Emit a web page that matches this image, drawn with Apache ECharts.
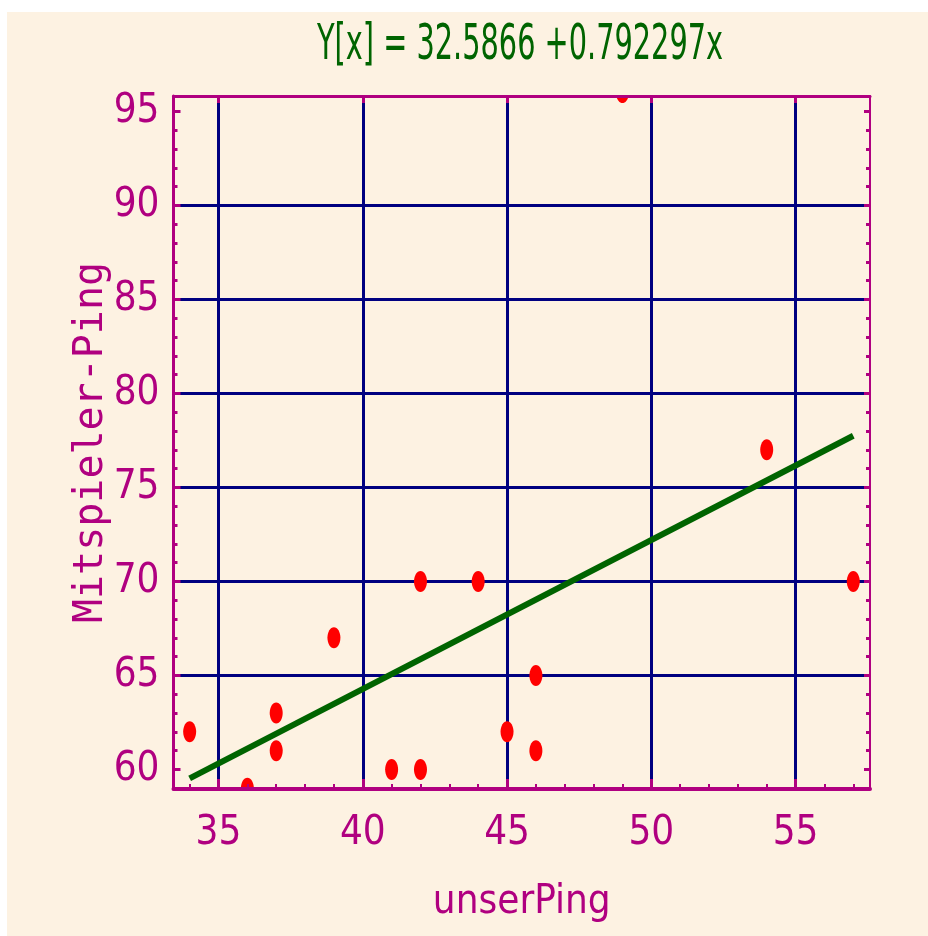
<!DOCTYPE html>
<html>
<head>
<meta charset="utf-8">
<script src="https://cdn.jsdelivr.net/npm/echarts@6/dist/echarts.min.js"></script>
<style>
html,body{margin:0;padding:0;background:#ffffff;}
#main{position:absolute;left:7px;top:12px;width:921px;height:924px;}
</style>
</head>
<body>
<div id="main"></div>
<script>
// ---- data ----
const titleText = 'Y[x] = 32.5866 +0.792297x';
const xName = 'unserPing';
const yName = 'Mitspieler-Ping';
const xVals = [34, 36, 37, 37, 39, 41, 42, 42, 44, 45, 46, 46, 49, 54, 57];
const yVals = [62, 59, 63, 61, 67, 60, 60, 70, 70, 62, 65, 61, 96, 77, 70];
const fitX = [34, 57];
const fitY = [59.525, 77.748];
const xMajorTicks = [35, 40, 45, 50, 55];
const xMinorTicks = [34, 35, 36, 37, 38, 39, 40, 41, 42, 43, 44, 45, 46, 47, 48, 49, 50, 51, 52, 53, 54, 55, 56, 57];
const yMajorTicks = [60, 65, 70, 75, 80, 85, 90, 95];
const yMinorTicks = [60, 61, 62, 63, 64, 65, 66, 67, 68, 69, 70, 71, 72, 73, 74, 75, 76, 77, 78, 79, 80, 81, 82, 83, 84, 85, 86, 87, 88, 89, 90, 91, 92, 93, 94, 95];
const xGridLines = [35, 40, 45, 50, 55];
const yGridLines = [65, 70, 75, 80, 85, 90];
const xRange = [33.44, 57.58];
const yRange = [58.96, 95.82];

// ---- styles ----
const MAG = '#B00080';
const NAVY = '#000080';
const GREEN = '#006400';
const RED = '#FF0000';
const BG = '#FDF2E2';
const FONT = "'Liberation Sans Narrow','DejaVu Sans Condensed','Arial Narrow',sans-serif";
const MONO = "'DejaVu Sans Mono','Liberation Mono',monospace";

function xAx(extra) {
  return Object.assign({
    type: 'value', min: xRange[0], max: xRange[1], position: 'bottom',
    axisLine: { show: false, onZero: false },
    axisTick: { show: false },
    axisLabel: { show: false },
    splitLine: { show: false },
    z: 3
  }, extra);
}
function yAx(extra) {
  return Object.assign({
    type: 'value', min: yRange[0], max: yRange[1], position: 'left',
    axisLine: { show: false, onZero: false },
    axisTick: { show: false },
    axisLabel: { show: false },
    splitLine: { show: false },
    z: 3
  }, extra);
}

const chart = echarts.init(document.getElementById('main'), null, { renderer: 'canvas' });
chart.setOption({
  animation: false,
  backgroundColor: BG,
  graphic: [{
    type: 'text', x: 513, y: 34, scaleX: 0.64, scaleY: 1, silent: true,
    style: {
      text: titleText, fill: GREEN, fontSize: 50, fontFamily: FONT,
      align: 'center', verticalAlign: 'middle'
    }
  }],
  grid: { left: 166.5, top: 84, right: 58, bottom: 147 },
  xAxis: [
    xAx({
      axisLine: { show: true, onZero: false, lineStyle: { color: MAG, width: 4 } },
      axisTick: { show: true, inside: true, length: 10, customValues: xMajorTicks, lineStyle: { color: MAG, width: 3 } },
      axisLabel: { show: true, customValues: xMajorTicks, color: MAG, fontSize: 40, fontFamily: FONT, margin: 25 },
      name: xName, nameLocation: 'middle', nameGap: 94, nameMoveOverlap: false,
      nameTextStyle: { color: MAG, fontSize: 40, fontFamily: FONT }
    }),
    xAx({ axisTick: { show: true, inside: true, length: 5, customValues: xMinorTicks, lineStyle: { color: MAG, width: 2 } } }),
    xAx({ z: 1, axisTick: { show: false, customValues: xGridLines }, splitLine: { show: true, lineStyle: { color: NAVY, width: 3 } } }),
    xAx({
      position: 'top',
      axisLine: { show: true, onZero: false, lineStyle: { color: MAG, width: 3 } },
      axisTick: { show: true, inside: true, length: 7, customValues: xMajorTicks, lineStyle: { color: MAG, width: 3 } }
    })
  ],
  yAxis: [
    yAx({
      axisLine: { show: true, onZero: false, lineStyle: { color: MAG, width: 3 } },
      axisTick: { show: true, inside: true, length: 7, customValues: yMajorTicks, lineStyle: { color: MAG, width: 3 } },
      axisLabel: { show: true, customValues: yMajorTicks, color: MAG, fontSize: 40, fontFamily: FONT, margin: 14 },
      name: yName, nameLocation: 'middle', nameGap: 62, nameMoveOverlap: false,
      nameTextStyle: { color: MAG, fontSize: 40, fontFamily: MONO }
    }),
    yAx({ axisTick: { show: true, inside: true, length: 4, customValues: yMinorTicks, lineStyle: { color: MAG, width: 3 } } }),
    yAx({ z: 1, axisTick: { show: false, customValues: yGridLines }, splitLine: { show: true, lineStyle: { color: NAVY, width: 3 } } }),
    yAx({
      position: 'right',
      axisLine: { show: true, onZero: false, lineStyle: { color: MAG, width: 2 } },
      axisTick: { show: true, inside: true, length: 4, customValues: yMinorTicks, lineStyle: { color: MAG, width: 3 } }
    }),
    yAx({
      position: 'right',
      axisTick: { show: true, inside: true, length: 6, customValues: yMajorTicks, lineStyle: { color: MAG, width: 3 } }
    })
  ],
  series: [
    {
      type: 'line', xAxisIndex: 0, yAxisIndex: 0, z: 2, silent: true,
      data: fitX.map((x, i) => [x, fitY[i]]),
      symbol: 'none', showSymbol: false,
      lineStyle: { color: GREEN, width: 6 }
    },
    {
      type: 'custom', xAxisIndex: 0, yAxisIndex: 0, z: 2, clip: true, silent: true,
      data: xVals.map((x, i) => [x, yVals[i]]),
      renderItem: function (params, api) {
        const p = api.coord([api.value(0), api.value(1)]);
        return { type: 'ellipse', shape: { cx: p[0], cy: p[1], rx: 6.5, ry: 10.5 }, style: { fill: RED } };
      }
    }
  ]
});
</script>
</body>
</html>
